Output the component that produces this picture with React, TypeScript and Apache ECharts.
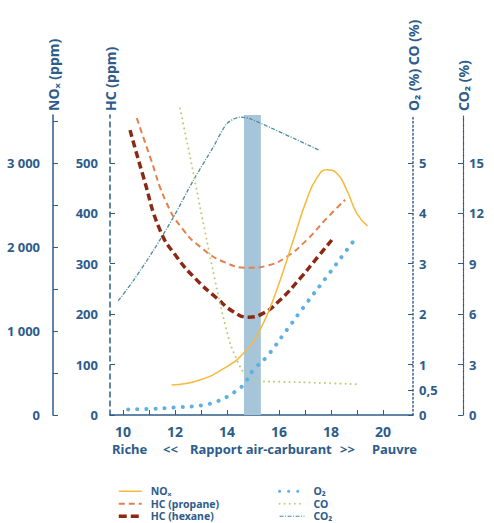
import React, { useEffect, useRef } from "react";
import * as echarts from "echarts";

// ---- Data ----
const noxData: [number, number][] = [
  [11.87, 357], [12.96, 417], [13.99, 575], [14.63, 734], [15.27, 1012],
  [15.91, 1488], [16.55, 2083], [17.06, 2560], [17.45, 2818], [17.83, 2917],
  [18.22, 2877], [18.6, 2679], [18.99, 2400], [19.4, 2250],
];
const hcPropaneData: [number, number][] = [
  [10.53, 589], [11.04, 512], [11.68, 420], [12.32, 367], [12.96, 334],
  [13.86, 304], [14.88, 292], [15.53, 296], [16.3, 314], [17.06, 347],
  [17.83, 390], [18.54, 427],
];
const hcHexaneData: [number, number][] = [
  [10.27, 565], [10.78, 473], [11.42, 367], [12.06, 314], [12.83, 268],
  [13.6, 232], [14.24, 205], [14.82, 194], [15.4, 202], [16.04, 228],
  [16.81, 271], [17.45, 311], [18.09, 351],
];
const o2Data: [number, number][] = [
  [10.2, 0.11], [11, 0.12], [12, 0.15], [13, 0.19], [13.5, 0.25], [14, 0.36],
  [14.3, 0.46], [14.63, 0.6], [15.01, 0.89], [15.53, 1.16], [16.3, 1.69],
  [17.06, 2.22], [17.83, 2.74], [18.6, 3.27], [19, 3.54],
];
const coData: [number, number][] = [
  [12.19, 6.08], [12.58, 5.12], [12.96, 4.13], [13.35, 3.14], [13.73, 2.21],
  [14.12, 1.42], [14.5, 0.96], [14.82, 0.73], [15.27, 0.67], [16.81, 0.65],
  [19.05, 0.61],
];
const co2Data: [number, number][] = [
  [9.82, 6.8], [10.4, 8.0], [11.17, 9.79], [11.94, 11.77], [12.7, 13.95],
  [13.47, 15.94], [13.99, 17.33], [14.5, 17.72], [14.88, 17.63], [16.17, 16.74],
  [17.58, 15.73],
];
const stoichBand: [number, number] = [14.65, 15.3];
const stoichBandTop = 6.1;

const xTickValues = [10, 11, 12, 13, 14, 15, 16, 17, 18, 19, 20];
const xLabelValues = [10, 12, 14, 16, 18, 20];
const hcTicks = [0, 100, 200, 300, 400, 500];
const noxTicks = [0, 500, 1000, 1500, 2000, 2500, 3000, 3500];
const noxLabels = [0, 1000, 2000, 3000];
const o2Ticks = [0, 0.5, 1, 2, 3, 4, 5];
const co2Ticks = [0, 3, 6, 9, 12, 15];

const BLUE = "#2e5c8a";
const FONT = "Noto Sans";

export default function App() {
  const ref = useRef<HTMLDivElement>(null);
  useEffect(() => {
    if (!ref.current) return;
    const chart = echarts.init(ref.current, null, { renderer: "svg" });
    const labelStyle = { color: BLUE, fontWeight: "bold" as const, fontSize: 13, fontFamily: FONT };
    const nameStyle = { color: BLUE, fontWeight: "bold" as const, fontSize: 14, fontFamily: FONT };
    const yBase = (extra: any) => ({
      type: "value",
      min: 0,
      nameLocation: "end",
      nameRotate: 90,
      nameGap: 4,
      nameTextStyle: nameStyle,
      splitLine: { show: false },
      ...extra,
    });
    const legendText = { color: BLUE, fontWeight: "bold" as const, fontSize: 10.5, fontFamily: FONT, lineHeight: 12.5, padding: [0, 0, 0, 4] };
    const legendCommon = {
      orient: "vertical", top: 485, itemHeight: 8, itemGap: 0, padding: 0, height: 40,
      itemStyle: { color: "rgba(0,0,0,0)", borderColor: "rgba(0,0,0,0)", borderWidth: 0, opacity: 0 },
      textStyle: legendText,
    };
    chart.setOption({
      animation: false,
      backgroundColor: "#ffffff",
      grid: { left: 110, right: 81, top: 115, bottom: 108, containLabel: false },
      xAxis: {
        type: "value",
        min: 9.5,
        max: 21.15,
        axisLine: { lineStyle: { color: BLUE, width: 1.5 } },
        axisTick: { inside: true, length: 5, customValues: xTickValues, lineStyle: { color: BLUE } },
        axisLabel: { customValues: xLabelValues, margin: 9, ...labelStyle, fontSize: 14 },
        splitLine: { show: false },
      },
      yAxis: [
        yBase({
          name: "HC (ppm)",
          position: "left",
          offset: 0,
          max: 595,
          axisLine: { show: true, lineStyle: { color: BLUE, width: 1.5, type: [5, 4] } },
          axisTick: { show: true, inside: true, length: 5, customValues: hcTicks, lineStyle: { color: BLUE } },
          axisLabel: { customValues: hcTicks, margin: 12, ...labelStyle },
        }),
        yBase({
          name: "NOₓ (ppm)",
          position: "left",
          offset: 57,
          max: 3570,
          axisLine: { show: true, lineStyle: { color: BLUE, width: 1.5 } },
          axisTick: { show: true, inside: true, length: 5, customValues: noxTicks, lineStyle: { color: BLUE } },
          axisLabel: {
            customValues: noxLabels, margin: 13, ...labelStyle,
            formatter: (v: number) => (v >= 1000 ? `${Math.floor(v / 1000)} ${String(v % 1000).padStart(3, "0")}` : String(v)),
          },
        }),
        yBase({
          name: "O₂ (%) CO (%)",
          position: "right",
          offset: 0,
          max: 5.95,
          axisLine: { show: true, lineStyle: { color: BLUE, width: 1.5, type: [1.5, 2.5] } },
          axisTick: { show: true, inside: true, length: 5, customValues: o2Ticks, lineStyle: { color: BLUE } },
          axisLabel: {
            customValues: o2Ticks, margin: 6, ...labelStyle,
            formatter: (v: number) => String(v).replace(".", ","),
          },
        }),
        yBase({
          name: "CO₂ (%)",
          position: "right",
          offset: 50,
          max: 17.85,
          axisLine: { show: true, lineStyle: { color: BLUE, width: 1.2, type: [3, 1, 1, 1] } },
          axisTick: { show: true, inside: true, length: 5, customValues: co2Ticks, lineStyle: { color: BLUE } },
          axisLabel: { customValues: co2Ticks, margin: 6, ...labelStyle },
        }),
      ],
      legend: [
        {
          ...legendCommon, left: 117, itemWidth: 23,
          data: [
            { name: "NOₓ", lineStyle: { width: 1.5 } },
            { name: "HC (propane)", lineStyle: { width: 2, type: [6, 4] } },
            { name: "HC (hexane)", lineStyle: { width: 3.5, type: [8, 4] } },
          ],
        },
        {
          ...legendCommon, left: 278, itemWidth: 25,
          data: [
            { name: "O₂", lineStyle: { width: 3, type: [0.1, 9], cap: "round" } },
            { name: "CO", lineStyle: { width: 1.8, type: [0.1, 5], cap: "round" } },
            { name: "CO₂", lineStyle: { width: 1.2, type: [4, 1.5, 1, 1.5] } },
          ],
        },
      ],
      graphic: [
        { type: "text", left: 112, top: 442, style: { text: "Riche", fill: BLUE, font: `bold 13px "${FONT}"` } },
        { type: "text", left: 163, top: 442, style: { text: "<<", fill: BLUE, font: `bold 13px "${FONT}"` } },
        { type: "text", left: 190, top: 442, style: { text: "Rapport air-carburant", fill: BLUE, font: `bold 13px "${FONT}"` } },
        { type: "text", left: 340, top: 442, style: { text: ">>", fill: BLUE, font: `bold 13px "${FONT}"` } },
        { type: "text", left: 372, top: 442, style: { text: "Pauvre", fill: BLUE, font: `bold 13px "${FONT}"` } },
      ],
      series: [
        {
          type: "line", name: "band", xAxisIndex: 0, yAxisIndex: 2, data: [], z: 1, symbol: "none", clip: false,
          markArea: {
            silent: true,
            itemStyle: { color: "#a6c5d9" },
            data: [[{ xAxis: stoichBand[0], yAxis: 0 }, { xAxis: stoichBand[1], yAxis: stoichBandTop }]],
          },
        },
        {
          type: "line", name: "CO₂", yAxisIndex: 3, data: co2Data, smooth: 0.25, symbol: "none", z: 3,
          lineStyle: { color: "#4a8d9e", width: 1.3, type: [4, 1.5, 1, 1.5] }, itemStyle: { color: "#4a8d9e" },
        },
        {
          type: "line", name: "HC (propane)", yAxisIndex: 0, data: hcPropaneData, smooth: true, symbol: "none", z: 3,
          lineStyle: { color: "#e4804c", width: 2, type: [6, 4] }, itemStyle: { color: "#e4804c" },
        },
        {
          type: "line", name: "HC (hexane)", yAxisIndex: 0, data: hcHexaneData, smooth: true, symbol: "none", z: 3,
          lineStyle: { color: "#8b2a14", width: 3.5, type: [7, 4] }, itemStyle: { color: "#8b2a14" },
        },
        {
          type: "line", name: "CO", yAxisIndex: 2, data: coData, smooth: 0.2, symbol: "none", z: 3, clip: false,
          lineStyle: { color: "#b8d077", width: 2, type: [0.1, 5], cap: "round" }, itemStyle: { color: "#b8d077" },
        },
        {
          type: "line", name: "NOₓ", yAxisIndex: 1, data: noxData, smooth: true, symbol: "none", z: 3,
          lineStyle: { color: "#f6b93b", width: 1.5 }, itemStyle: { color: "#f6b93b" },
        },
        {
          type: "line", name: "O₂", yAxisIndex: 2, data: o2Data, smooth: true, symbol: "none", z: 3,
          lineStyle: { color: "#5bb1e2", width: 4, type: [0.1, 9], cap: "round" }, itemStyle: { color: "#5bb1e2" },
        },
      ],
    });
    return () => chart.dispose();
  }, []);
  return <div ref={ref} style={{ position: "absolute", left: 0, top: 0, width: 494, height: 523 }} />;
}
